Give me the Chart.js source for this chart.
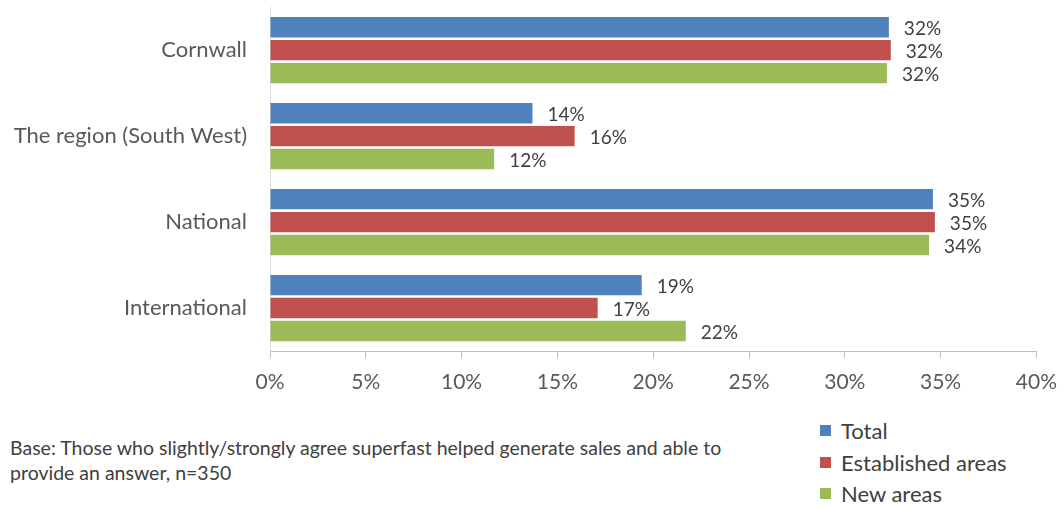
<!DOCTYPE html>
<html>
<head>
<meta charset="utf-8">
<script src="https://cdn.jsdelivr.net/npm/chart.js@4.4.1/dist/chart.umd.min.js"></script>
<style>
  body { margin: 0; background: #fff; font-family: Lato, sans-serif; overflow: hidden; }
  .wrap { position: relative; width: 1064px; height: 507px; overflow: hidden; }
  .chart_box { position: absolute; left: 0; top: -29px; width: 1064px; height: 429px; }
  .base_note { position: absolute; left: 10px; top: 435px; font-size: 19.5px; line-height: 25px; color: #404040; white-space: nowrap; }
  .legend { position: absolute; left: 820px; top: 415px; }
  .legend_item { height: 31.5px; display: flex; align-items: center; font-size: 22px; color: #404040; }
  .legend_item span.box { width: 11px; height: 11px; margin-right: 10px; display: inline-block; }
</style>
</head>
<body>
<div class="wrap">
  <div class="chart_box"><canvas id="my_chart"></canvas></div>
  <div class="base_note">Base: Those who slightly/strongly agree superfast helped generate sales and able to<br>provide an answer, n=350</div>
  <div class="legend"></div>
</div>
<script>
const categories = ['Cornwall', 'The region (South West)', 'National', 'International'];
const seriesNames = ['Total', 'Established areas', 'New areas'];
const seriesColors = ['#4F81BD', '#C0504D', '#9BBB59'];

const totalValues = [32.3, 13.7, 34.6, 19.4];
const establishedValues = [32.4, 15.9, 34.7, 17.1];
const newAreaValues = [32.2, 11.7, 34.4, 21.7];

const tickValues = [0, 5, 10, 15, 20, 25, 30, 35, 40];

const ctx = document.getElementById('my_chart');
const legendBox = document.querySelector('.legend');

// value labels just past the end of each bar
const barLabels = {
    id: 'barLabels',
    afterDatasetsDraw(chart) {
        const c = chart.ctx;
        c.save();
        c.font = '19px Lato';
        c.fillStyle = '#404040';
        c.textAlign = 'left';
        c.textBaseline = 'middle';
        chart.data.datasets.forEach((ds, i) => {
            chart.getDatasetMeta(i).data.forEach((bar, j) => {
                c.fillText(Math.round(ds.data[j]) + '%', bar.x + 15, bar.y + 2);
            });
        });
        c.restore();
    }
};

const allValues = [totalValues, establishedValues, newAreaValues];

var myChart = new Chart(ctx, {
    type: 'bar',
    data: {
      labels: categories,
      datasets: seriesNames.map((name, i) => ({
        label: name,
        data: allValues[i],
        backgroundColor: seriesColors[i],
        borderWidth: 0,
        categoryPercentage: 0.8,
        barPercentage: 0.89
      }))
    },
    options: {
      responsive: true,
      maintainAspectRatio: false,
      animation: false,
      indexAxis: 'y',
      layout: {
        padding: { left: 0, right: 27, top: 7, bottom: 0 }
      },
      scales: {
        x: {
          min: 0,
          max: 40,
          afterBuildTicks: (scale) => {
            scale.ticks = tickValues.map(v => ({ value: v }));
          },
          afterFit: (scale) => { scale.height = 49; },
          grid: {
            drawOnChartArea: false,
            drawTicks: true,
            tickLength: 7,
            color: '#bfbfbf'
          },
          border: { color: '#bfbfbf' },
          ticks: {
            padding: 7,
            color: '#595959',
            font: { family: 'Lato', size: 21, lineHeight: 1.65 },
            callback: (v) => v + '%'
          }
        },
        y: {
          afterFit: (scale) => { scale.width = 270; },
          grid: { display: false, drawTicks: false },
          border: { color: '#d9d9d9' },
          ticks: {
            padding: 23,
            color: '#595959',
            font: { family: 'Lato', size: 22 }
          }
        }
      },
      plugins: {
        legend: { display: false },
        tooltip: { enabled: false }
      }
    },
    plugins: [barLabels]
});

seriesNames.forEach((name, i) => {
    const item = document.createElement('div');
    item.className = 'legend_item';
    item.innerHTML = '<span class="box" style="background:' + seriesColors[i] + '"></span>' + name;
    legendBox.appendChild(item);
});
</script>
</body>
</html>
